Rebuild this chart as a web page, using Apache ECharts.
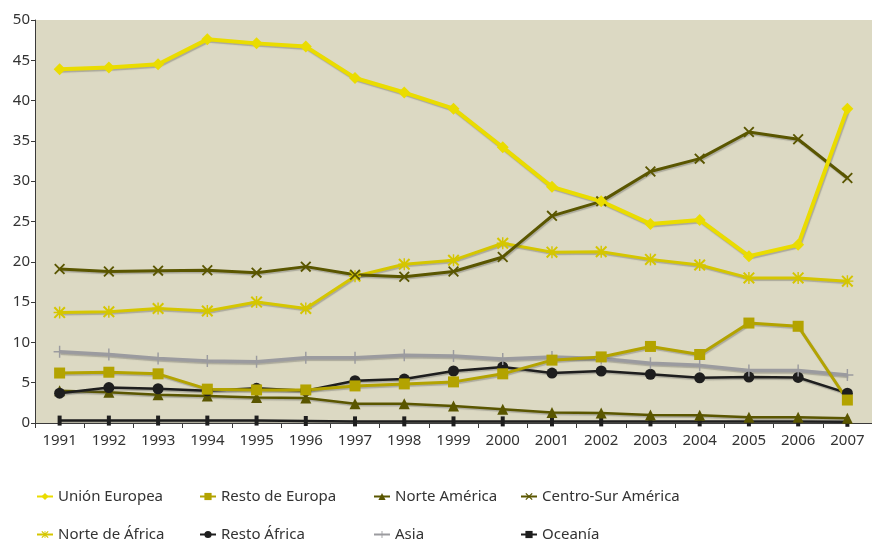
<!DOCTYPE html>
<html>
<head>
<meta charset="utf-8">
<script src="https://cdn.jsdelivr.net/npm/echarts@6/dist/echarts.min.js"></script>
<style>
  html, body { margin: 0; padding: 0; background: #fff; }
  #chart { width: 872px; height: 541px; }
</style>
</head>
<body>
<div id="chart"></div>
<script>
const years = ['1991','1992','1993','1994','1995','1996','1997','1998','1999','2000','2001','2002','2003','2004','2005','2006','2007'];

const unionEuropea   = [43.9, 44.1, 44.5, 47.6, 47.1, 46.7, 42.8, 41.0, 39.0, 34.2, 29.3, 27.5, 24.7, 25.2, 20.7, 22.1, 39.0];
const restoEuropa    = [6.2, 6.3, 6.1, 4.2, 4.1, 4.1, 4.6, 4.85, 5.1, 6.1, 7.8, 8.2, 9.5, 8.5, 12.4, 12.0, 2.85];
const norteAmerica   = [4.0, 3.8, 3.5, 3.35, 3.15, 3.1, 2.4, 2.4, 2.1, 1.7, 1.3, 1.25, 1.0, 0.95, 0.7, 0.7, 0.6];
const centroSur      = [19.1, 18.8, 18.9, 18.95, 18.65, 19.4, 18.4, 18.15, 18.8, 20.6, 25.7, 27.5, 31.2, 32.8, 36.1, 35.2, 30.4];
const norteAfrica    = [13.7, 13.8, 14.2, 13.9, 15.0, 14.2, 18.2, 19.7, 20.2, 22.3, 21.2, 21.25, 20.3, 19.6, 18.0, 18.0, 17.6];
const restoAfrica    = [3.7, 4.4, 4.25, 4.0, 4.3, 4.0, 5.25, 5.45, 6.45, 6.95, 6.2, 6.45, 6.05, 5.6, 5.7, 5.65, 3.7];
const asia           = [8.85, 8.5, 8.0, 7.7, 7.6, 8.1, 8.1, 8.4, 8.3, 7.95, 8.2, 8.0, 7.4, 7.15, 6.5, 6.5, 5.95];
const oceania        = [0.3, 0.3, 0.3, 0.3, 0.3, 0.25, 0.2, 0.2, 0.2, 0.2, 0.2, 0.2, 0.2, 0.2, 0.2, 0.2, 0.15];

// legend grid: 4 columns x 2 rows
const legendNames = ['Unión Europea', 'Resto de Europa', 'Norte América', 'Centro-Sur América',
                     'Norte de África', 'Resto África', 'Asia', 'Oceanía'];
const legendLefts = [36, 199, 373, 520];
const legendTops = [489, 527];

const FONT = 'Noto Sans';

// marker shapes
const crossPath = 'path://M0,1.2L1.2,0L10,8.8L8.8,10Z M8.8,0L10,1.2L1.2,10L0,8.8Z';
const starPath = 'path://M0,1.2L1.2,0L10,8.8L8.8,10Z M8.8,0L10,1.2L1.2,10L0,8.8Z M4.4,0H5.6V10H4.4Z M0,4.4H10V5.6H0Z';
const plusPath = 'path://M4.4,0H5.6V10H4.4Z M0,4.4H10V5.6H0Z';

function line(name, data, color, width, symbol, size) {
  return {
    name: name,
    type: 'line',
    data: data,
    symbol: symbol,
    symbolSize: size,
    showSymbol: true,
    animation: false,
    lineStyle: {
      color: color,
      width: width,
      shadowColor: 'rgba(80,80,80,0.35)',
      shadowOffsetX: 1,
      shadowOffsetY: 1.5,
      shadowBlur: 1
    },
    itemStyle: { color: color },
    emphasis: { disabled: true }
  };
}

const legends = legendNames.map(function (n, i) {
  return {
    data: [n],
    left: legendLefts[i % 4],
    top: legendTops[Math.floor(i / 4)],
    itemWidth: 16,
    itemHeight: 9,
    itemGap: 0,
    padding: 0,
    selectedMode: false,
    textStyle: { fontFamily: FONT, fontSize: 15, color: '#333' }
  };
});

const chart = echarts.init(document.getElementById('chart'));

chart.setOption({
  backgroundColor: '#fff',
  grid: {
    left: 35,
    right: 0,
    top: 20,
    bottom: 118,
    show: true,
    backgroundColor: '#dcd9c3',
    borderWidth: 0
  },
  legend: legends,
  xAxis: {
    type: 'category',
    data: years,
    boundaryGap: true,
    axisLine: { lineStyle: { color: '#3a3a3a', width: 1 } },
    axisTick: { show: true, length: 5, lineStyle: { color: '#3a3a3a' } },
    axisLabel: { fontFamily: FONT, fontSize: 15, color: '#333', margin: 10 },
    splitLine: { show: false }
  },
  yAxis: {
    type: 'value',
    min: 0,
    max: 50,
    interval: 5,
    axisLine: { show: true, lineStyle: { color: '#3a3a3a', width: 1 } },
    axisTick: { show: true, length: 4, lineStyle: { color: '#3a3a3a' } },
    axisLabel: { fontFamily: FONT, fontSize: 15, color: '#333', margin: 5 },
    splitLine: { show: false }
  },
  series: [
    line('Oceanía', oceania, '#1e1e1e', 2.5, 'rect', [4, 10]),
    line('Norte América', norteAmerica, '#5a5600', 2.5, 'triangle', 11),
    line('Resto África', restoAfrica, '#1e1e1e', 2.5, 'circle', 11),
    line('Asia', asia, '#9b9b9f', 3.5, plusPath, 12),
    line('Resto de Europa', restoEuropa, '#b3a300', 3, 'rect', 11),
    line('Norte de África', norteAfrica, '#d5c600', 3, starPath, 12),
    line('Centro-Sur América', centroSur, '#5a5600', 3, crossPath, 11),
    line('Unión Europea', unionEuropea, '#eadc00', 4, 'diamond', 12)
  ]
});
</script>
</body>
</html>
